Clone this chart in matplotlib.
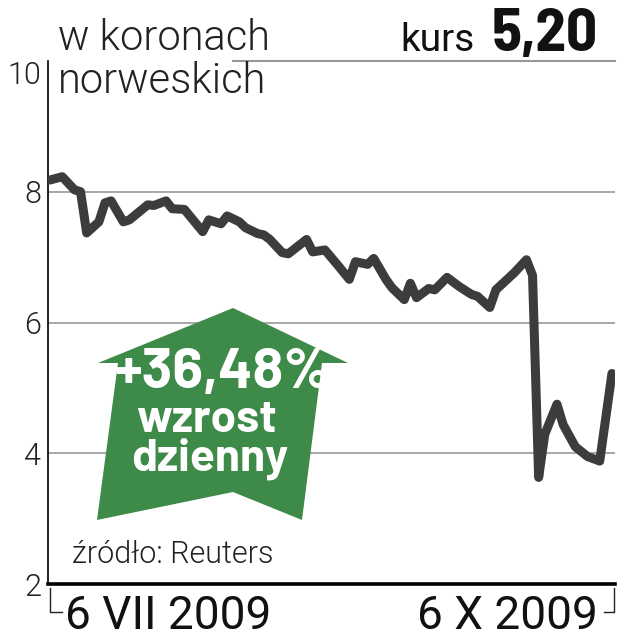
import matplotlib
matplotlib.use("Agg")
import matplotlib.pyplot as plt
from matplotlib.patches import Polygon

# days counted from 6 VII 2009
days = [0, 2, 4, 5, 6, 8, 9, 10, 12, 13, 16, 17, 19, 20, 22, 25, 26, 28, 29,
        31, 32, 34, 35, 36, 38, 39, 42, 43, 45, 47, 49, 50, 52, 53, 55, 56,
        58, 59, 60, 62, 63, 65, 67, 69, 70, 72, 73, 76, 78, 79, 80, 81, 83,
        84, 86, 88, 90, 92]
kurs = [8.18, 8.23, 8.03, 8.00, 7.37, 7.54, 7.83, 7.86, 7.54, 7.57, 7.80,
        7.79, 7.86, 7.74, 7.73, 7.39, 7.57, 7.51, 7.63, 7.54, 7.45, 7.36,
        7.34, 7.27, 7.07, 7.05, 7.27, 7.08, 7.11, 6.89, 6.66, 6.93, 6.89,
        6.98, 6.66, 6.53, 6.35, 6.60, 6.38, 6.52, 6.50, 6.69, 6.55, 6.43,
        6.40, 6.23, 6.50, 6.76, 6.96, 6.72, 3.63, 4.29, 4.75, 4.44, 4.10,
        3.95, 3.88, 5.22]
y_ticks = [2, 4, 6, 8, 10]
date_labels = ["6 VII 2009", "6 X 2009"]
last_value = "5,20"
change = "+36,48%"

light = dict(family=["Roboto", "DejaVu Sans"], weight=300)
regular = dict(family=["Roboto", "DejaVu Sans"], weight=400)
heavy = dict(family=["Barlow Semi Condensed", "DejaVu Sans"], weight=700)
badge = dict(family=["Barlow", "DejaVu Sans"], weight=700)
line_col = "#3c3c3c"
green = "#3e8a48"

fig = plt.figure(figsize=(6.19, 6.40), dpi=100)
ax = fig.add_axes([48 / 619, 56 / 640, 567 / 619, 523 / 640])

ax.set_xlim(-0.33, 92.5)
ax.set_ylim(2, 10)

for v in y_ticks[1:-1]:
    ax.axhline(v, color="#999999", lw=1.2, zorder=1)
ax.axhline(10, xmin=0.326, xmax=1.0, color="#999999", lw=1.5, zorder=1,
           clip_on=False)

ax.plot(days, kurs, color=line_col, lw=6.5, solid_joinstyle="round",
        solid_capstyle="round", zorder=3)

for s in ["top", "right"]:
    ax.spines[s].set_visible(False)
ax.spines["left"].set_linewidth(1.2)
ax.spines["bottom"].set_linewidth(2.6)
ax.set_xticks([])
ax.set_yticks(y_ticks)
ax.set_yticklabels([str(v) for v in y_ticks], fontsize=22, color="#222222",
                   **light)
ax.tick_params(axis="y", length=0, pad=5)
for lab in ax.get_yticklabels():
    if lab.get_text() == "10":
        lab.set_va("top")
        lab.set_y(10.2)

# header
fig.text(58 / 619, 1 - 50 / 640, "w koronach", fontsize=30,
         color="#222222", va="baseline", **light)
fig.text(58 / 619, 1 - 93 / 640, "norweskich", fontsize=30,
         color="#222222", va="baseline", **light)
fig.text(400 / 619, 1 - 51 / 640, "kurs", fontsize=28,
         color="#111111", va="baseline", **regular)
fig.text(598 / 619, 1 - 51 / 640, last_value, fontsize=44,
         color="#111111", va="baseline", ha="right", **heavy)

# green arrow badge
arrow_px = [(233, 308), (348, 363), (322, 363), (302, 520), (233, 492),
            (97, 520), (118, 363), (98, 363)]
arrow = Polygon([(x / 619, 1 - y / 640) for x, y in arrow_px], closed=True,
                transform=fig.transFigure, facecolor=green, edgecolor="none",
                zorder=4)
fig.patches.append(arrow)
fig.text(222 / 619, 1 - 388 / 640, change, fontsize=41, color="white",
         ha="center", va="baseline", zorder=5, **badge)
fig.text(206 / 619, 1 - 432 / 640, "wzrost", fontsize=33, color="white",
         ha="center", va="baseline", zorder=5, **badge)
fig.text(210 / 619, 1 - 470 / 640, "dzienny", fontsize=33, color="white",
         ha="center", va="baseline", zorder=5, **badge)

fig.text(72 / 619, 1 - 563 / 640, "źródło: Reuters", fontsize=22,
         color="#222222", va="baseline", **light)

# date labels with brackets
fig.text(65 / 619, 1 - 629 / 640, date_labels[0], fontsize=33,
         color="#111111", va="baseline", **regular)
fig.text(598 / 619, 1 - 629 / 640, date_labels[1], fontsize=33,
         color="#111111", va="baseline", ha="right", **regular)
fig.lines.append(plt.Line2D([50 / 619, 50 / 619, 62 / 619],
                            [1 - 588 / 640, 1 - 612 / 640, 1 - 612 / 640],
                            transform=fig.transFigure, color="#222222", lw=1))
fig.lines.append(plt.Line2D([604 / 619, 614 / 619, 614 / 619],
                            [1 - 612 / 640, 1 - 612 / 640, 1 - 588 / 640],
                            transform=fig.transFigure, color="#222222", lw=1))

fig.savefig("out.png", dpi=100)
